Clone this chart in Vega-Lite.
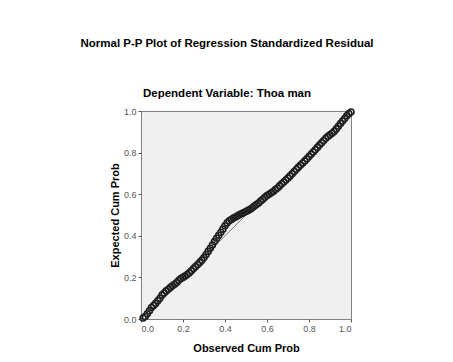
{
  "$schema": "https://vega.github.io/schema/vega-lite/v6.json",
  "autosize": "none",
  "width": 210,
  "height": 208,
  "padding": {"left": 141, "top": 111, "right": 102, "bottom": 43},
  "background": "white",
  "config": {
    "font": "Liberation Sans",
    "view": {"fill": "#f0f0f0", "stroke": "#808080", "strokeWidth": 1},
    "axis": {
      "grid": false,
      "domain": false,
      "tickSize": 3,
      "tickColor": "#555555",
      "labelFont": "Liberation Sans",
      "labelFontSize": 9,
      "labelColor": "#555555",
      "titleFont": "Liberation Sans",
      "titleFontSize": 11,
      "titleFontWeight": "bold",
      "titleColor": "#000000"
    }
  },
  "title": {
    "text": "Normal P-P Plot of Regression Standardized Residual",
    "subtitle": "Dependent Variable: Thoa man",
    "anchor": "middle",
    "frame": "group",
    "dx": -19,
    "offset": 6,
    "font": "Liberation Sans",
    "fontSize": 11.5,
    "fontWeight": "bold",
    "color": "#000000",
    "subtitleFont": "Liberation Sans",
    "subtitleFontSize": 11.5,
    "subtitleFontWeight": "bold",
    "subtitleColor": "#000000",
    "subtitlePadding": 39
  },
  "datasets": {
    "diag": [{"x": 0, "y": 0}, {"x": 1, "y": 1}],
    "pts": [
      {"obs": 0.01, "exp": 0.005}, {"obs": 0.02, "exp": 0.012}, {"obs": 0.03, "exp": 0.025}, {"obs": 0.04, "exp": 0.040},
      {"obs": 0.05, "exp": 0.055}, {"obs": 0.06, "exp": 0.065}, {"obs": 0.07, "exp": 0.075}, {"obs": 0.08, "exp": 0.088},
      {"obs": 0.09, "exp": 0.100}, {"obs": 0.10, "exp": 0.115}, {"obs": 0.11, "exp": 0.125}, {"obs": 0.12, "exp": 0.135},
      {"obs": 0.13, "exp": 0.143}, {"obs": 0.14, "exp": 0.152}, {"obs": 0.15, "exp": 0.160}, {"obs": 0.16, "exp": 0.167},
      {"obs": 0.17, "exp": 0.175}, {"obs": 0.18, "exp": 0.186}, {"obs": 0.19, "exp": 0.195}, {"obs": 0.20, "exp": 0.200},
      {"obs": 0.21, "exp": 0.207}, {"obs": 0.22, "exp": 0.214}, {"obs": 0.23, "exp": 0.222}, {"obs": 0.24, "exp": 0.232},
      {"obs": 0.25, "exp": 0.243}, {"obs": 0.26, "exp": 0.252}, {"obs": 0.27, "exp": 0.262}, {"obs": 0.28, "exp": 0.272},
      {"obs": 0.29, "exp": 0.283}, {"obs": 0.30, "exp": 0.296}, {"obs": 0.31, "exp": 0.310}, {"obs": 0.32, "exp": 0.325},
      {"obs": 0.33, "exp": 0.340}, {"obs": 0.34, "exp": 0.356}, {"obs": 0.35, "exp": 0.372}, {"obs": 0.36, "exp": 0.388},
      {"obs": 0.37, "exp": 0.403}, {"obs": 0.38, "exp": 0.417}, {"obs": 0.39, "exp": 0.432}, {"obs": 0.40, "exp": 0.448},
      {"obs": 0.41, "exp": 0.462}, {"obs": 0.42, "exp": 0.472}, {"obs": 0.43, "exp": 0.478}, {"obs": 0.44, "exp": 0.485},
      {"obs": 0.45, "exp": 0.490}, {"obs": 0.46, "exp": 0.496}, {"obs": 0.47, "exp": 0.502}, {"obs": 0.48, "exp": 0.507},
      {"obs": 0.49, "exp": 0.512}, {"obs": 0.50, "exp": 0.517}, {"obs": 0.51, "exp": 0.522}, {"obs": 0.52, "exp": 0.528},
      {"obs": 0.53, "exp": 0.535}, {"obs": 0.54, "exp": 0.543}, {"obs": 0.55, "exp": 0.550}, {"obs": 0.56, "exp": 0.558},
      {"obs": 0.57, "exp": 0.567}, {"obs": 0.58, "exp": 0.576}, {"obs": 0.59, "exp": 0.585}, {"obs": 0.60, "exp": 0.594},
      {"obs": 0.61, "exp": 0.600}, {"obs": 0.62, "exp": 0.607}, {"obs": 0.63, "exp": 0.613}, {"obs": 0.64, "exp": 0.622},
      {"obs": 0.65, "exp": 0.630}, {"obs": 0.66, "exp": 0.640}, {"obs": 0.67, "exp": 0.650}, {"obs": 0.68, "exp": 0.659},
      {"obs": 0.69, "exp": 0.668}, {"obs": 0.70, "exp": 0.678}, {"obs": 0.71, "exp": 0.688}, {"obs": 0.72, "exp": 0.698},
      {"obs": 0.73, "exp": 0.709}, {"obs": 0.74, "exp": 0.720}, {"obs": 0.75, "exp": 0.730}, {"obs": 0.76, "exp": 0.740},
      {"obs": 0.77, "exp": 0.750}, {"obs": 0.78, "exp": 0.760}, {"obs": 0.79, "exp": 0.770}, {"obs": 0.80, "exp": 0.781},
      {"obs": 0.81, "exp": 0.792}, {"obs": 0.82, "exp": 0.803}, {"obs": 0.83, "exp": 0.814}, {"obs": 0.84, "exp": 0.825},
      {"obs": 0.85, "exp": 0.836}, {"obs": 0.86, "exp": 0.847}, {"obs": 0.87, "exp": 0.858}, {"obs": 0.88, "exp": 0.869},
      {"obs": 0.89, "exp": 0.878}, {"obs": 0.90, "exp": 0.886}, {"obs": 0.91, "exp": 0.893}, {"obs": 0.92, "exp": 0.902},
      {"obs": 0.93, "exp": 0.914}, {"obs": 0.94, "exp": 0.927}, {"obs": 0.95, "exp": 0.940}, {"obs": 0.96, "exp": 0.952},
      {"obs": 0.97, "exp": 0.964}, {"obs": 0.98, "exp": 0.977}, {"obs": 0.99, "exp": 0.988}, {"obs": 1.00, "exp": 0.995}
    ]
  },
  "layer": [
    {
      "data": {"name": "diag"},
      "mark": {"type": "line", "color": "#555555", "strokeWidth": 0.8},
      "encoding": {
        "x": {"field": "x", "type": "quantitative", "scale": {"domain": [0, 1], "nice": false, "zero": false}},
        "y": {"field": "y", "type": "quantitative", "scale": {"domain": [0, 1], "nice": false, "zero": false}}
      }
    },
    {
      "data": {"name": "pts"},
      "mark": {"type": "point", "shape": "circle", "filled": false, "stroke": "#1e1e1e", "strokeWidth": 1.6, "size": 36, "opacity": 1},
      "encoding": {
        "x": {
          "field": "obs", "type": "quantitative",
          "scale": {"domain": [0, 1], "nice": false, "zero": false},
          "axis": {"title": "Observed Cum Prob", "values": [0, 0.2, 0.4, 0.6, 0.8, 1], "format": ".1f", "titlePadding": 9}
        },
        "y": {
          "field": "exp", "type": "quantitative",
          "scale": {"domain": [0, 1], "nice": false, "zero": false},
          "axis": {"title": "Expected Cum Prob", "values": [0, 0.2, 0.4, 0.6, 0.8, 1], "format": ".1f", "titlePadding": 3}
        }
      }
    }
  ]
}
